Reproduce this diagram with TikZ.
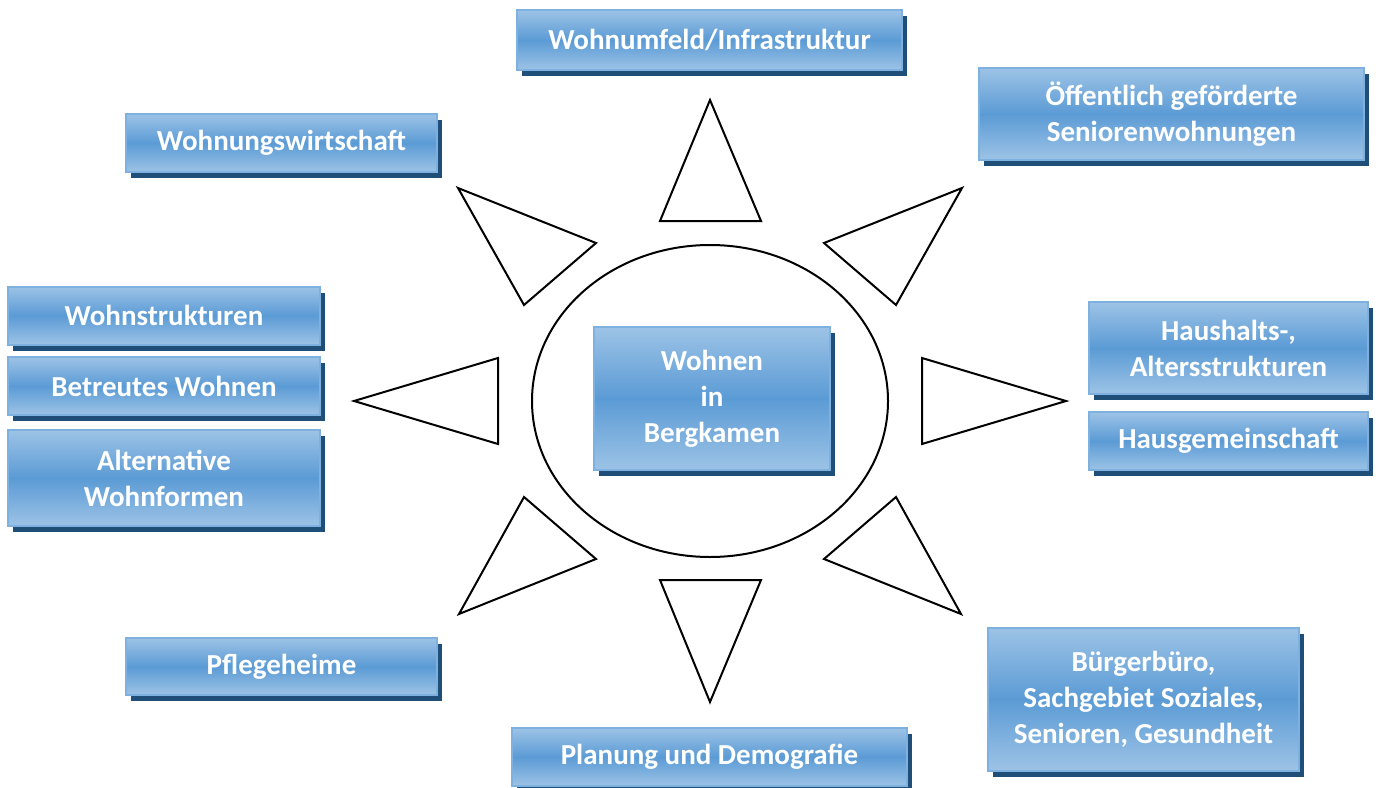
\documentclass[tikz,border=0pt]{standalone}
\usepackage{fontspec}
\setmainfont{Carlito}
\usetikzlibrary{shadows}
\definecolor{WohnLight}{HTML}{9DC3E6}
\definecolor{WohnMid}{HTML}{5B9BD5}
\definecolor{WohnEdge}{HTML}{7EB0E0}
\definecolor{WohnShadow}{HTML}{1F4E79}
\tikzset{
  topicbox/.style={rectangle,draw=WohnEdge,line width=2pt,inner sep=0pt,
    top color=WohnLight,bottom color=WohnLight,middle color=WohnMid,
    text=white,align=center,font=\fontsize{29}{36}\selectfont\bfseries,
    drop shadow={shadow xshift=5pt,shadow yshift=-6pt,fill=WohnShadow,opacity=1,draw=none}},
  ray/.style={draw=black,line width=2pt,line join=miter}
}
\begin{document}
\begin{tikzpicture}[x=1pt,y=-1pt]
      \useasboundingbox (0,0) rectangle (1378,787);
      % Mitte
      \draw[line width=2pt] (710,401) ellipse [x radius=178,y radius=156];
      \node[topicbox,minimum width=236pt,minimum height=143pt] (mitte) at (712,398.5) {Wohnen\\in\\Bergkamen};
      % Strahlen
      \draw[ray] (710,100) -- (761,221) -- (660,221) -- cycle;
      \draw[ray] (710,702) -- (761,580) -- (660,580) -- cycle;
      \draw[ray] (354,401) -- (498,358) -- (498,444) -- cycle;
      \draw[ray] (1066,401) -- (922,358) -- (922,444) -- cycle;
      \draw[ray] (458,188) -- (596,243) -- (524,305) -- cycle;
      \draw[ray] (962,188) -- (824,243) -- (896,305) -- cycle;
      \draw[ray] (459,614) -- (524,497) -- (596,559) -- cycle;
      \draw[ray] (961,614) -- (896,497) -- (824,559) -- cycle;
      % Themen
      \node[topicbox,minimum width=385pt,minimum height=60pt] (umfeld) at (709.5,40) {Wohnumfeld/Infrastruktur};
      \node[topicbox,minimum width=385pt,minimum height=92pt] (senioren) at (1171.5,114) {Öffentlich geförderte\\Seniorenwohnungen};
      \node[topicbox,minimum width=311pt,minimum height=58pt] (wirtschaft) at (281.5,143) {Wohnungswirtschaft};
      \node[topicbox,minimum width=312pt,minimum height=58pt] (strukturen) at (164,315.5) {Wohnstrukturen};
      \node[topicbox,minimum width=312pt,minimum height=58pt] (betreut) at (164,386) {Betreutes Wohnen};
      \node[topicbox,minimum width=312pt,minimum height=96pt] (alternativ) at (164,478) {Alternative\\Wohnformen};
      \node[topicbox,minimum width=279pt,minimum height=92pt] (haushalt) at (1228.5,348) {Haushalts-,\\Altersstrukturen};
      \node[topicbox,minimum width=279pt,minimum height=58pt] (hausgem) at (1228.5,441) {Hausgemeinschaft};
      \node[topicbox,minimum width=311pt,minimum height=57pt] (pflege) at (281.5,666.5) {Pflegeheime};
      \node[topicbox,minimum width=395pt,minimum height=58pt] (planung) at (709.5,757) {Planung und Demografie};
      \node[topicbox,minimum width=311pt,minimum height=143pt] (buero) at (1143.5,699) {Bürgerbüro,\\Sachgebiet Soziales,\\Senioren, Gesundheit};
\end{tikzpicture}
\end{document}
